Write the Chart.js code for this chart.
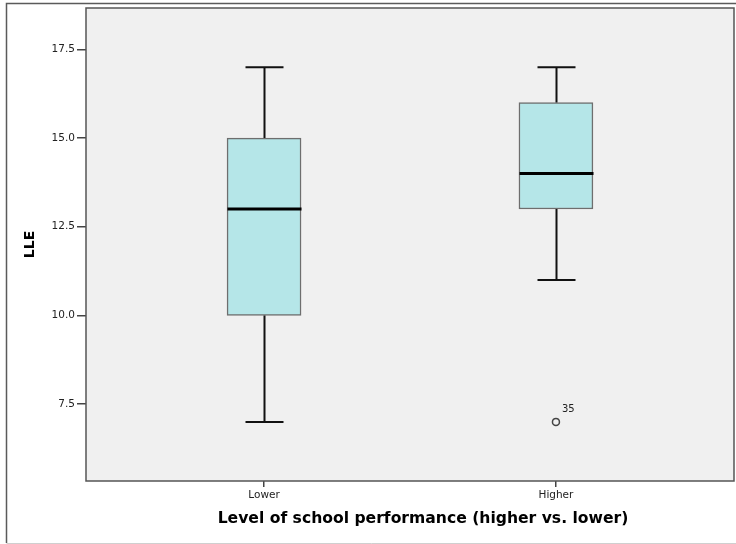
<!DOCTYPE html>
<html>
<head>
<meta charset="utf-8">
<script src="https://cdn.jsdelivr.net/npm/chart.js@4.4.1/dist/chart.umd.min.js"></script>
<style>
    body { margin: 0; background: #ffffff; }
    #grafico { display: block; }
</style>
</head>
<body>
<canvas id="grafico" width="736" height="544"></canvas>
<script>
// Datos del diagrama de caja
const categorias = ['Lower', 'Higher'];
const minimos = [7, 11];
const cuartil1 = [10, 13];
const medianas = [13, 14];
const cuartil3 = [15, 16];
const maximos = [17, 17];

// Valores atipicos
const atipicosGrupo = [2];
const atipicosValor = [7];
const atipicosEtiqueta = ['35'];

const ticksY = [7.5, 10, 12.5, 15, 17.5];

const tituloX = 'Level of school performance (higher vs. lower)';
const tituloY = 'LLE';

const fuente = '"DejaVu Sans", Verdana, sans-serif';

// Cajas como barras flotantes
const cajas = categorias.map((c, i) => ({ x: i + 1, y: [cuartil1[i], cuartil3[i]] }));
const puntosAtipicos = atipicosGrupo.map((g, i) => ({ x: g, y: atipicosValor[i] }));

// Plugin que dibuja fondo, marco, bigotes, medianas y titulos
const pluginCaja = {
    id: 'pluginCaja',
    beforeDraw(chart) {
        const { ctx, chartArea } = chart;
        ctx.save();
        ctx.fillStyle = '#ffffff';
        ctx.fillRect(0, 0, chart.width, chart.height);
        // marco exterior
        ctx.strokeStyle = '#5a5a5a';
        ctx.lineWidth = 1.5;
        ctx.beginPath();
        ctx.moveTo(6.5, 543);
        ctx.lineTo(6.5, 3.5);
        ctx.lineTo(736, 3.5);
        ctx.stroke();
        ctx.strokeStyle = '#cfcfcf';
        ctx.lineWidth = 1;
        ctx.beginPath();
        ctx.moveTo(6.5, 543.5);
        ctx.lineTo(736, 543.5);
        ctx.stroke();
        // fondo del area
        ctx.fillStyle = '#f0f0f0';
        ctx.fillRect(chartArea.left, chartArea.top, chartArea.right - chartArea.left, chartArea.bottom - chartArea.top);
        ctx.restore();
    },
    afterDatasetsDraw(chart) {
        const { ctx, chartArea } = chart;
        const x = chart.scales.x;
        const y = chart.scales.y;
        ctx.save();
        categorias.forEach((c, i) => {
            const cx = Math.round(x.getPixelForValue(i + 1)) + 0.5;
            ctx.strokeStyle = '#111111';
            ctx.lineWidth = 2;
            ctx.beginPath();
            ctx.moveTo(cx, y.getPixelForValue(cuartil3[i]));
            ctx.lineTo(cx, y.getPixelForValue(maximos[i]));
            ctx.moveTo(cx, y.getPixelForValue(cuartil1[i]));
            ctx.lineTo(cx, y.getPixelForValue(minimos[i]));
            ctx.stroke();
            // topes de los bigotes
            ctx.beginPath();
            ctx.moveTo(cx - 19, y.getPixelForValue(maximos[i]));
            ctx.lineTo(cx + 19, y.getPixelForValue(maximos[i]));
            ctx.moveTo(cx - 19, y.getPixelForValue(minimos[i]));
            ctx.lineTo(cx + 19, y.getPixelForValue(minimos[i]));
            ctx.stroke();
            // mediana
            ctx.strokeStyle = '#000000';
            ctx.lineWidth = 3;
            ctx.beginPath();
            ctx.moveTo(cx - 37, y.getPixelForValue(medianas[i]));
            ctx.lineTo(cx + 37, y.getPixelForValue(medianas[i]));
            ctx.stroke();
        });

        // etiquetas de atipicos
        ctx.fillStyle = '#222222';
        ctx.font = '10px ' + fuente;
        ctx.textAlign = 'left';
        ctx.textBaseline = 'middle';
        atipicosGrupo.forEach((g, i) => {
            ctx.fillText(atipicosEtiqueta[i], x.getPixelForValue(g) + 6, y.getPixelForValue(atipicosValor[i]) - 12);
        });

        // marco del area
        ctx.strokeStyle = '#555555';
        ctx.lineWidth = 1.5;
        ctx.strokeRect(chartArea.left, chartArea.top, chartArea.right - chartArea.left, chartArea.bottom - chartArea.top);

        // titulos de los ejes
        ctx.fillStyle = '#000000';
        ctx.font = 'bold 15.6px ' + fuente;
        ctx.textAlign = 'center';
        ctx.textBaseline = 'middle';
        ctx.fillText(tituloX, 423, 519);
        ctx.translate(30.5, (chartArea.top + chartArea.bottom) / 2);
        ctx.rotate(-Math.PI / 2);
        ctx.font = 'bold 14px ' + fuente;
        ctx.fillText(tituloY, 0, 0);
        ctx.restore();
    }
};

const ctx = document.getElementById('grafico').getContext('2d');

const miGrafico = new Chart(ctx, {
    type: 'bar',
    data: {
        datasets: [
            {
                data: cajas,
                backgroundColor: '#b5e6e8',
                borderColor: '#6e6e6e',
                borderWidth: 1.5,
                borderSkipped: false,
                barThickness: 74
            },
            {
                type: 'scatter',
                data: puntosAtipicos,
                pointStyle: 'circle',
                pointRadius: 3.5,
                backgroundColor: 'rgba(0,0,0,0)',
                borderColor: '#444444',
                borderWidth: 1.5
            }
        ]
    },
    options: {
        responsive: false,
        animation: false,
        layout: { autoPadding: false, padding: { top: 8, right: 2, left: 0, bottom: 0 } },
        scales: {
            x: {
                type: 'linear',
                min: 0.39,
                max: 2.61,
                offset: false,
                afterFit: (s) => { s.height = 63; s.paddingLeft = 0; s.paddingRight = 0; },
                afterBuildTicks: (s) => { s.ticks = categorias.map((c, i) => ({ value: i + 1 })); },
                ticks: {
                    callback: (v) => categorias[v - 1],
                    color: '#222222',
                    font: { family: fuente, size: 10.5 },
                    padding: 2,
                    maxRotation: 0
                },
                grid: {
                    offset: false,
                    drawOnChartArea: false,
                    tickLength: 6,
                    tickColor: '#444444',
                    lineWidth: 1.5
                },
                border: { display: false }
            },
            y: {
                min: 16 / 3,
                max: 56 / 3,
                afterFit: (s) => { s.width = 86; s.paddingTop = 0; s.paddingBottom = 0; },
                afterBuildTicks: (s) => { s.ticks = ticksY.map(v => ({ value: v })); },
                ticks: {
                    callback: (v) => v.toFixed(1),
                    color: '#222222',
                    font: { family: fuente, size: 10.5 },
                    padding: 2
                },
                grid: {
                    drawOnChartArea: false,
                    tickLength: 9,
                    tickColor: '#444444',
                    lineWidth: 1.5
                },
                border: { display: false }
            }
        },
        plugins: {
            legend: { display: false },
            tooltip: { enabled: false }
        }
    },
    plugins: [pluginCaja]
});
</script>
</body>
</html>
